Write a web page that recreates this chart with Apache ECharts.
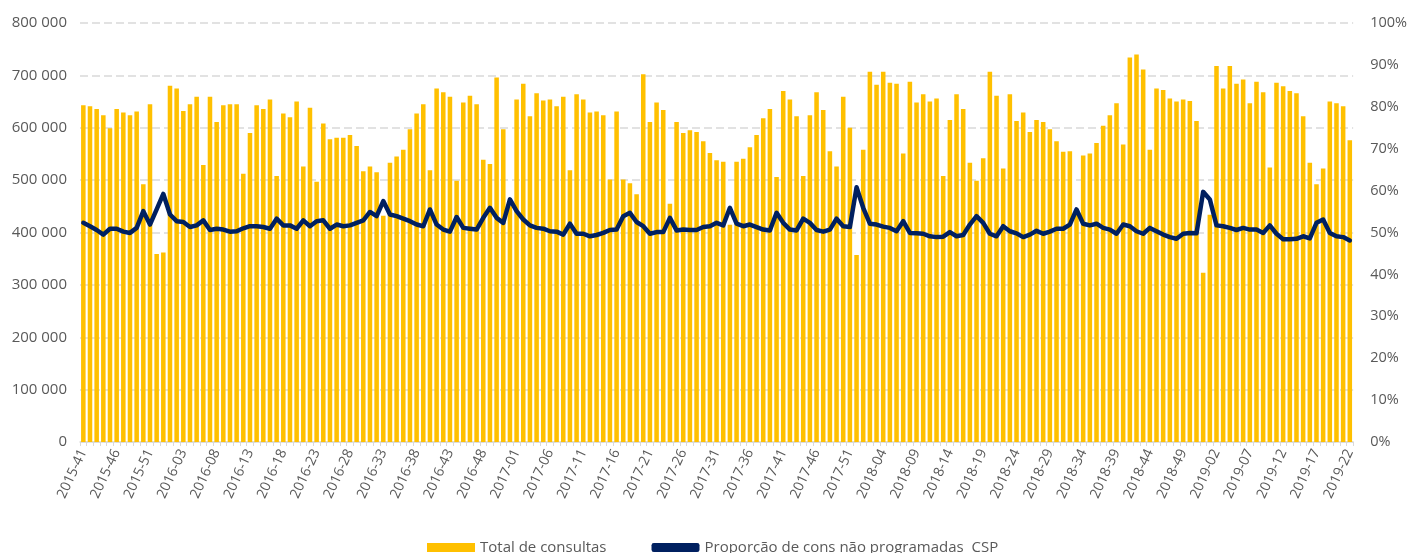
<!DOCTYPE html>
<html>
<head>
<meta charset="utf-8">
<script src="https://cdn.jsdelivr.net/npm/echarts@6/dist/echarts.min.js"></script>
<style>
html,body{margin:0;padding:0;background:#fff;}
#c{width:1410px;height:553px;}
</style>
</head>
<body>
<div id="c"></div>
<script>
// ISO week categories 2015-41 .. 2019-22
var weekRanges = [[2015, 41, 53], [2016, 1, 52], [2017, 1, 52], [2018, 1, 52], [2019, 1, 22]];
var categories = [];
weekRanges.forEach(function (r) {
  for (var w = r[1]; w <= r[2]; w++) categories.push(r[0] + '-' + (w < 10 ? '0' + w : w));
});

// Total de consultas (thousands)
var totalConsultasK = [
  643, 641, 636, 624, 599, 636, 629, 624, 631, 492, 645, 359, 362, 680, 675, 632, 645, 659, 529, 659, 611, 643, 645, 645, 512,
  590, 643, 636, 654, 508, 627, 620, 650, 526, 638, 497, 608, 578, 581, 581, 586, 565, 517, 526, 515, 432, 533, 545, 558,
  597, 627, 645, 519, 675, 668, 659, 499, 648, 661, 645, 539, 531, 696, 597, 450, 654, 684, 622, 666, 652, 654, 641, 659,
  519, 664, 654, 629, 631, 624, 501, 631, 501, 494, 473, 702, 611, 648, 634, 455, 611, 590, 595, 592, 574, 552, 538, 535,
  415, 535, 541, 563, 586, 618, 636, 506, 670, 654, 622, 508, 624, 668, 634, 555, 526, 659, 600, 357, 558, 707, 682, 707,
  686, 684, 551, 688, 648, 664, 650, 656, 508, 615, 664, 636, 533, 499, 542, 707, 661, 522, 664, 613, 629, 592, 615, 611,
  597, 574, 554, 555, 440, 547, 551, 571, 604, 624, 647, 568, 734, 740, 711, 558, 675, 672, 656, 650, 654, 651, 613, 323,
  434, 718, 675, 718, 684, 692, 647, 688, 668, 524, 686, 679, 670, 666, 622, 533, 492, 522, 650, 647, 641, 576
];

// Proporção de consultas não programadas CSP (%)
var proporcaoNaoProg = [
  52.3, 51.5, 50.6, 49.5, 50.9, 50.9, 50.2, 49.9, 51.1, 55.1, 51.9, 55.5, 59.2, 54.3, 52.7, 52.5, 51.3, 51.7, 52.9, 50.6, 50.9, 50.7, 50.2, 50.3, 51.0,
  51.5, 51.5, 51.3, 50.9, 53.3, 51.7, 51.7, 50.9, 52.9, 51.5, 52.7, 52.9, 50.9, 51.9, 51.5, 51.7, 52.3, 52.9, 54.9, 53.9, 57.5, 54.3, 53.9, 53.3,
  52.7, 51.9, 51.5, 55.5, 51.9, 50.7, 50.2, 53.7, 51.1, 50.9, 50.7, 53.5, 55.9, 53.5, 52.3, 57.9, 55.1, 53.1, 51.7, 51.1, 50.9, 50.3, 50.2, 49.5,
  52.1, 49.7, 49.7, 49.1, 49.4, 49.9, 50.6, 50.7, 53.9, 54.7, 52.5, 51.5, 49.7, 50.1, 50.1, 53.5, 50.5, 50.7, 50.6, 50.6, 51.3, 51.5, 52.3, 51.7,
  55.9, 52.1, 51.5, 51.9, 51.3, 50.7, 50.5, 54.7, 52.3, 50.7, 50.5, 53.3, 52.3, 50.6, 50.2, 50.7, 53.3, 51.5, 51.3, 60.8, 55.9, 52.1, 51.9, 51.4,
  51.1, 50.3, 52.7, 49.9, 49.8, 49.7, 49.1, 48.9, 49.0, 50.1, 49.1, 49.4, 51.9, 53.9, 52.3, 49.7, 49.1, 51.5, 50.3, 49.8, 48.9, 49.5, 50.4, 49.7,
  50.2, 50.9, 50.9, 51.9, 55.5, 52.1, 51.7, 52.1, 51.1, 50.7, 49.7, 51.9, 51.5, 50.3, 49.7, 51.1, 50.3, 49.5, 48.9, 48.5, 49.7, 49.9, 49.8, 59.7,
  57.9, 51.7, 51.5, 51.1, 50.6, 51.1, 50.7, 50.7, 49.9, 51.7, 49.7, 48.4, 48.4, 48.5, 49.1, 48.6, 52.3, 53.1, 49.9, 49.1, 48.9, 48.1
];

var seriesNames = ['Total de consultas', 'Proporção de cons não programadas  CSP'];

var totalConsultas = totalConsultasK.map(function (v) { return v * 1000; });

var txt = '#595959';
var font = 'Open Sans';

var chart = echarts.init(document.getElementById('c'), null, { renderer: 'canvas' });
chart.setOption({
  animation: false,
  backgroundColor: '#ffffff',
  textStyle: { fontFamily: font },
  grid: { left: 80, right: 55, top: 23, bottom: 111, containLabel: false },
  legend: {
    left: 422, top: 535,
    itemWidth: 48, itemHeight: 9, itemGap: 45,
    textStyle: { color: txt, fontSize: 15, fontFamily: font },
    data: [
      { name: seriesNames[0], icon: 'rect' },
      { name: seriesNames[1], icon: 'roundRect' }
    ]
  },
  xAxis: {
    type: 'category',
    data: categories,
    axisLine: { lineStyle: { color: '#d9d9d9', width: 1.5 } },
    axisTick: { show: true, interval: 0, length: 4, lineStyle: { color: '#d9d9d9' } },
    axisLabel: { interval: 4, rotate: 65, color: txt, fontSize: 14, fontFamily: font, margin: 8 }
  },
  yAxis: [
    {
      type: 'value', min: 0, max: 800000, interval: 100000,
      axisLine: { show: false }, axisTick: { show: false },
      axisLabel: {
        color: txt, fontSize: 15, fontFamily: font, margin: 13,
        formatter: function (v) { return String(v).replace(/\B(?=(\d{3})+(?!\d))/g, ' '); }
      },
      splitLine: { lineStyle: { color: '#d9d9d9', type: [8, 4], width: 1.5 } }
    },
    {
      type: 'value', min: 0, max: 100, interval: 10,
      axisLine: { show: false }, axisTick: { show: false },
      axisLabel: { color: txt, fontSize: 14.5, fontFamily: font, margin: 17, formatter: '{value}%' },
      splitLine: { show: false }
    }
  ],
  series: [
    {
      name: seriesNames[0], type: 'bar', yAxisIndex: 0,
      data: totalConsultas,
      barCategoryGap: '32%',
      itemStyle: { color: '#FFC000' }
    },
    {
      name: seriesNames[1], type: 'line', yAxisIndex: 1,
      data: proporcaoNaoProg,
      symbol: 'none', smooth: false,
      lineStyle: { color: '#002060', width: 4.5, cap: 'round', join: 'round' },
      itemStyle: { color: '#002060' }
    }
  ]
});
</script>
</body>
</html>
